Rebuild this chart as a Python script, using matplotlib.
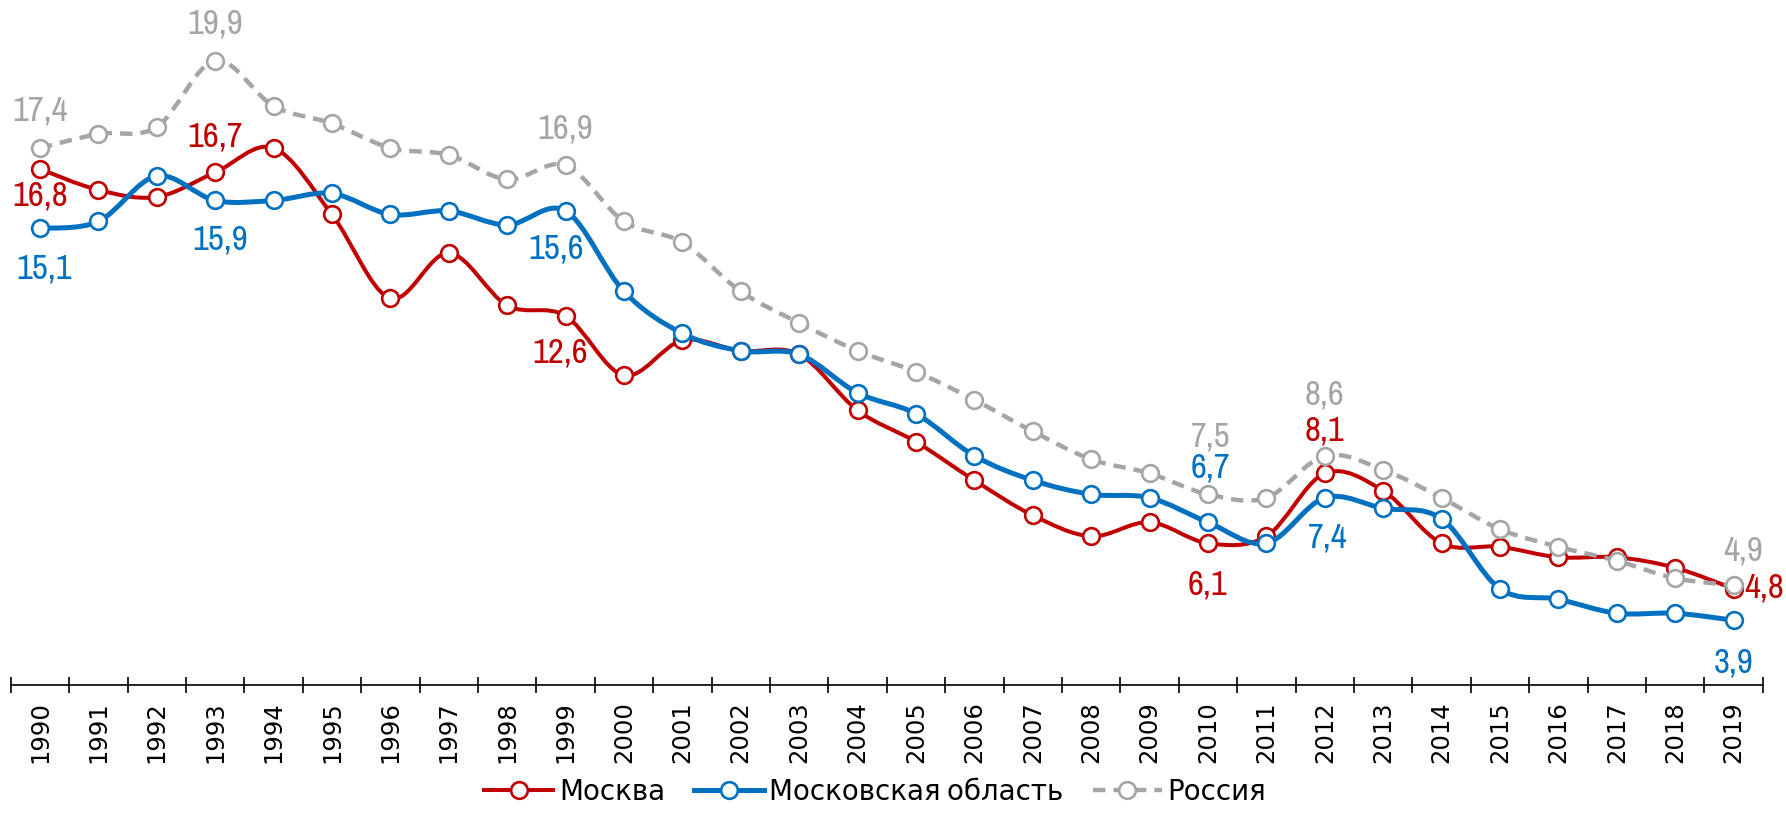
"""Smoothed line chart: Москва / Московская область / Россия, 1990-2019."""

import matplotlib
matplotlib.use("Agg")
import matplotlib.pyplot as plt
import numpy as np
from matplotlib import font_manager
from matplotlib.lines import Line2D
from matplotlib.patches import PathPatch
from matplotlib.path import Path

years = list(range(1990, 2020))
moscow = [16.8, 16.2, 16.0, 16.7, 17.4, 15.5, 13.1, 14.4, 12.9, 12.6,
          10.9, 11.9, 11.6, 11.5, 9.9, 9.0, 7.9, 6.9, 6.3, 6.7,
          6.1, 6.3, 8.1, 7.6, 6.1, 6.0, 5.7, 5.7, 5.4, 4.8]
oblast = [15.1, 15.3, 16.6, 15.9, 15.9, 16.1, 15.5, 15.6, 15.2, 15.6,
          13.3, 12.1, 11.6, 11.5, 10.4, 9.8, 8.6, 7.9, 7.5, 7.4,
          6.7, 6.1, 7.4, 7.1, 6.8, 4.8, 4.5, 4.1, 4.1, 3.9]
russia = [17.4, 17.8, 18.0, 19.9, 18.6, 18.1, 17.4, 17.2, 16.5, 16.9,
          15.3, 14.7, 13.3, 12.4, 11.6, 11.0, 10.2, 9.3, 8.5, 8.1,
          7.5, 7.4, 8.6, 8.2, 7.4, 6.5, 6.0, 5.6, 5.1, 4.9]
names = ["Москва", "Московская область", "Россия"]

RED, BLUE, GREY = "#C00000", "#0070C0", "#A5A5A5"

# which points carry a value label, with offset in pixels (dx, dy)
label_spots = {
    "moscow": [(0, 0, -27), (3, 0, 36), (9, -5, -37), (20, 0, -41),
               (22, 0, 43), (29, 31, 1)],
    "oblast": [(0, 4, -40), (3, 5, -39), (9, -9, -38), (20, 2, 55),
               (22, 3, -40), (29, 0, -42)],
    "russia": [(0, 0, 37), (3, 0, 37), (9, 0, 37), (20, 3, 58),
               (22, 0, 61), (29, 10, 35)],
}


def narrow_font():
    """Pick an installed condensed sans if there is one (Calibri-like look)."""
    found = sorted({f.name for f in font_manager.fontManager.ttflist
                    if "Narrow" in f.name or "Condensed" in f.name})
    return found[0] if found else None


NARROW = narrow_font()
if NARROW:
    LABEL_FONT, LABEL_SIZE, LEGEND_SIZE = [NARROW, "DejaVu Sans"], 25, 20
else:
    LABEL_FONT, LABEL_SIZE, LEGEND_SIZE = ["Liberation Sans", "DejaVu Sans"], 21, 17


def smooth_path(xs, ys):
    """Excel-style smoothed line as cubic Bezier segments."""
    pts = np.column_stack([xs, ys]).astype(float)
    n = len(pts)
    verts = [pts[0]]
    codes = [Path.MOVETO]
    for i in range(n - 1):
        p0 = pts[max(i - 1, 0)]
        p1, p2 = pts[i], pts[i + 1]
        p3 = pts[min(i + 2, n - 1)]
        verts += [p1 + (p2 - p0) / 6, p2 - (p3 - p1) / 6, p2]
        codes += [Path.CURVE4] * 3
    return Path(verts, codes)


fig = plt.figure(figsize=(17.86, 8.15), dpi=100)
ax = fig.add_axes([0.006, 0.16, 0.981, 0.84])
x = np.arange(len(years))

series = [
    ("moscow", moscow, RED, 2.9, "solid", 2),
    ("oblast", oblast, BLUE, 3.6, "solid", 3),
    ("russia", russia, GREY, 3.2, (0, (2.8, 1.8)), 4),
]
handles = []
for key, values, color, lw, ls, z in series:
    patch = PathPatch(smooth_path(x, values), fill=False, edgecolor=color,
                      linewidth=lw, linestyle=ls, capstyle="butt", zorder=z)
    ax.add_patch(patch)
    ax.plot(x, values, linestyle="none", marker="o", markersize=12,
            markerfacecolor="white", markeredgecolor=color,
            markeredgewidth=1.9, zorder=z + 0.5)
    for idx, dx, dy in label_spots[key]:
        ax.annotate(f"{values[idx]:.1f}".replace(".", ","),
                    (x[idx], values[idx]), xytext=(dx, dy),
                    textcoords="offset pixels", ha="center", va="center",
                    fontsize=LABEL_SIZE, color=color, family=LABEL_FONT,
                    zorder=6)
    handles.append(Line2D([], [], color=color, lw=lw, linestyle=ls,
                          marker="o", markersize=12, markerfacecolor="white",
                          markeredgecolor=color, markeredgewidth=1.9))

ax.set_xlim(-0.5, len(years) - 0.5)
ax.set_ylim(2.06, 21.63)
ax.set_xticks(x)
ax.set_xticklabels([str(y) for y in years])
ax.set_xticks(np.arange(-0.5, len(years)), minor=True)
ax.tick_params(axis="x", which="major", length=0, pad=12, labelsize=17.5,
               labelrotation=90, labelcolor="black")
ax.tick_params(axis="x", which="minor", direction="inout", length=11,
               width=1.2, color="black")
for lab in ax.get_xticklabels():
    lab.set_family("DejaVu Sans")
ax.set_yticks([])
for side in ("left", "right", "top"):
    ax.spines[side].set_visible(False)
ax.spines["bottom"].set_linewidth(1.2)
ax.spines["bottom"].set_color("black")

fig.legend(handles, names, loc="center", bbox_to_anchor=(0.49, 0.028),
           ncol=3, frameon=False, handlelength=2.5, handletextpad=0.2,
           columnspacing=1.05, prop={"family": LABEL_FONT, "size": LEGEND_SIZE})

fig.savefig("out.png", dpi=100)
